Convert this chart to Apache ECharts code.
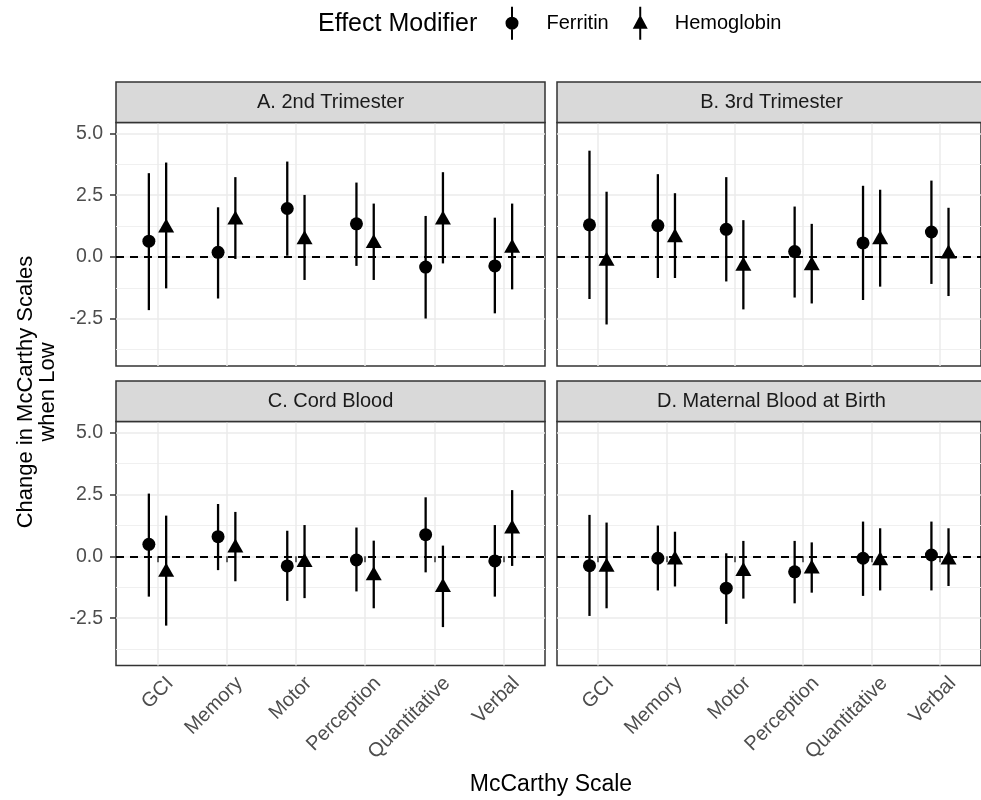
<!DOCTYPE html>
<html>
<head>
<meta charset="utf-8">
<title>McCarthy Scales effect modification</title>
<script src="https://cdn.jsdelivr.net/npm/echarts@6/dist/echarts.min.js"></script>
<style>
  html, body { margin: 0; padding: 0; background: #fff; }
  #main { width: 981px; height: 800px; }
</style>
</head>
<body>
<div id="main"></div>
<script>
// McCarthy scales on the x axis, one facet per blood sample
var scales = ['GCI', 'Memory', 'Motor', 'Perception', 'Quantitative', 'Verbal'];
var panels = ['A. 2nd Trimester', 'B. 3rd Trimester', 'C. Cord Blood', 'D. Maternal Blood at Birth'];
var yTicks = [-2.5, 0, 2.5, 5];
var yMinor = [-3.75, -1.25, 1.25, 3.75];
var xTicks = [1, 2, 3, 4, 5, 6];

// estimates and interval ends, one row per panel (A, B, C, D)
var ferritinEst = [
  [0.64, 0.19, 1.96, 1.34, -0.41, -0.36],
  [1.30, 1.27, 1.12, 0.22, 0.57, 1.01],
  [0.48, 0.79, -0.39, -0.15, 0.87, -0.19],
  [-0.38, -0.08, -1.29, -0.63, -0.08, 0.05]
];
var ferritinLow = [
  [-2.15, -1.68, 0.05, -0.36, -2.49, -2.28],
  [-1.70, -0.85, -0.99, -1.64, -1.74, -1.09],
  [-1.63, -0.56, -1.80, -1.42, -0.65, -1.63],
  [-2.41, -1.38, -2.73, -1.90, -1.60, -1.38]
];
var ferritinHigh = [
  [3.39, 2.01, 3.86, 3.01, 1.66, 1.59],
  [4.30, 3.35, 3.23, 2.04, 2.88, 3.09],
  [2.53, 2.11, 1.03, 1.16, 2.38, 1.26],
  [1.67, 1.24, 0.12, 0.62, 1.40, 1.40]
];
var hemoglobinEst = [
  [1.18, 1.50, 0.71, 0.55, 1.50, 0.36],
  [-0.16, 0.79, -0.37, -0.35, 0.71, 0.13],
  [-0.64, 0.34, -0.24, -0.78, -1.25, 1.11],
  [-0.44, -0.14, -0.61, -0.51, -0.17, -0.14]
];
var hemoglobinLow = [
  [-1.27, -0.08, -0.93, -0.93, -0.26, -1.31],
  [-2.73, -0.85, -2.12, -1.88, -1.20, -1.58],
  [-2.80, -1.01, -1.69, -2.10, -2.86, -0.39],
  [-2.10, -1.22, -1.71, -1.47, -1.38, -1.20]
];
var hemoglobinHigh = [
  [3.82, 3.23, 2.51, 2.16, 3.43, 2.16],
  [2.64, 2.58, 1.49, 1.34, 2.72, 1.99],
  [1.64, 1.79, 1.26, 0.63, 0.43, 2.67],
  [1.36, 0.99, 0.62, 0.56, 1.13, 1.13]
];

var dodge = 0.125;
var gridBox = [
  { left: 116, top: 122.5, width: 429, height: 243.5 },
  { left: 557, top: 122.5, width: 429, height: 243.5 },
  { left: 116, top: 421.5, width: 429, height: 244 },
  { left: 557, top: 421.5, width: 429, height: 244 }
];

var circleIcon = 'path://M6,0L8,0L8,33L6,33Z M13.5,16.5A6.5,6.5 0 1 1 0.5,16.5A6.5,6.5 0 1 1 13.5,16.5Z';
var triangleIcon = 'path://M6.5,0L8.5,0L8.5,33L6.5,33Z M7.5,8L15,22L0,22Z';

function rows(est, low, high, shift) {
  return scales.map(function (s, i) {
    return [i + 1 + shift, est[i], low[i], high[i]];
  });
}

function errorBar(params, api) {
  var a = api.coord([api.value(0), api.value(2)]);
  var b = api.coord([api.value(0), api.value(3)]);
  return {
    type: 'line',
    shape: { x1: a[0], y1: a[1], x2: b[0], y2: b[1] },
    style: { stroke: '#000', lineWidth: 2.3 }
  };
}

var grids = [], xAxes = [], yAxes = [], series = [], graphics = [];

panels.forEach(function (title, p) {
  var left = p % 2 === 0;
  var bottom = p >= 2;
  var g = gridBox[p];
  grids.push({
    left: g.left, top: g.top, width: g.width, height: g.height,
    show: true, borderColor: '#333', borderWidth: 1.5, backgroundColor: '#fff'
  });
  xAxes.push({
    gridIndex: p, type: 'value', min: 0.4, max: 6.6,
    axisLine: { show: false },
    axisTick: { show: bottom, customValues: xTicks, length: 6, lineStyle: { color: '#333', width: 1.5 } },
    axisLabel: {
      show: bottom, customValues: xTicks, rotate: 45, margin: 2,
      align: 'right', verticalAlign: 'top', lineHeight: 36,
      color: '#4d4d4d', fontSize: 20,
      formatter: function (v) { return scales[Math.round(v) - 1] || ''; }
    },
    splitLine: { show: true, lineStyle: { color: '#ebebeb', width: 1.5 } }
  });
  yAxes.push({
    gridIndex: p, type: 'value', min: -4.41, max: 5.44,
    axisLine: { show: false },
    axisTick: { show: left, customValues: yTicks, length: 6, lineStyle: { color: '#333', width: 1.5 } },
    axisLabel: {
      show: left, customValues: yTicks, margin: 13, color: '#4d4d4d', fontSize: 19.5,
      formatter: function (v) { return v.toFixed(1); }
    },
    splitLine: { show: true, lineStyle: { color: '#ebebeb', width: 1.5 } }
  });
  // second y axis only for the minor grid lines
  yAxes.push({
    gridIndex: p, type: 'value', min: -4.41, max: 5.44, position: 'right',
    axisLine: { show: false },
    axisTick: { show: false, customValues: yMinor },
    axisLabel: { show: false, customValues: yMinor },
    splitLine: { show: true, lineStyle: { color: '#f0f0f0', width: 1 } }
  });

  var yi = p * 2;
  series.push({
    name: 'Ferritin', type: 'custom', xAxisIndex: p, yAxisIndex: yi,
    renderItem: errorBar, encode: { x: 0, y: [2, 3] },
    data: rows(ferritinEst[p], ferritinLow[p], ferritinHigh[p], -dodge), z: 3
  });
  series.push({
    name: 'Hemoglobin', type: 'custom', xAxisIndex: p, yAxisIndex: yi,
    renderItem: errorBar, encode: { x: 0, y: [2, 3] },
    data: rows(hemoglobinEst[p], hemoglobinLow[p], hemoglobinHigh[p], dodge), z: 3
  });
  series.push({
    name: 'Ferritin', type: 'scatter', xAxisIndex: p, yAxisIndex: yi,
    symbol: 'circle', symbolSize: 13, itemStyle: { color: '#000', opacity: 1 },
    encode: { x: 0, y: 1 }, z: 4,
    data: rows(ferritinEst[p], ferritinLow[p], ferritinHigh[p], -dodge),
    markLine: {
      silent: true, symbol: ['none', 'none'], label: { show: false },
      lineStyle: { color: '#000', type: [8, 6], width: 2 },
      data: [{ yAxis: 0 }]
    }
  });
  series.push({
    name: 'Hemoglobin', type: 'scatter', xAxisIndex: p, yAxisIndex: yi,
    symbol: 'triangle', symbolSize: [16, 14], symbolOffset: [0, -2.3],
    itemStyle: { color: '#000', opacity: 1 },
    encode: { x: 0, y: 1 }, z: 4,
    data: rows(hemoglobinEst[p], hemoglobinLow[p], hemoglobinHigh[p], dodge)
  });

  // facet strip
  graphics.push({
    type: 'rect', z: 10,
    shape: { x: g.left, y: g.top - 40.5, width: g.width, height: 40.5 },
    style: { fill: '#d9d9d9', stroke: '#333', lineWidth: 1.5 }
  });
  graphics.push({
    type: 'text', z: 11,
    x: g.left + g.width / 2, y: g.top - 20,
    style: { text: title, fill: '#1a1a1a', font: '20px "Liberation Sans", Arial, sans-serif', align: 'center', verticalAlign: 'middle' }
  });
});

graphics.push({
  type: 'text', x: 318, y: 24,
  style: { text: 'Effect Modifier', fill: '#000', font: '25px "Liberation Sans", Arial, sans-serif', align: 'left', verticalAlign: 'middle' }
});
graphics.push({
  type: 'text', x: 551, y: 785,
  style: { text: 'McCarthy Scale', fill: '#000', font: '23px "Liberation Sans", Arial, sans-serif', align: 'center', verticalAlign: 'middle' }
});
graphics.push({
  type: 'text', x: 37, y: 392, rotation: Math.PI / 2,
  style: {
    text: 'Change in McCarthy Scales\nwhen Low', fill: '#000', lineHeight: 22,
    font: '22px "Liberation Sans", Arial, sans-serif', align: 'center', verticalAlign: 'middle'
  }
});

var chart = echarts.init(document.getElementById('main'), null, { renderer: 'canvas' });
chart.setOption({
  animation: false,
  backgroundColor: '#fff',
  textStyle: { fontFamily: '"Liberation Sans", Arial, sans-serif' },
  legend: {
    left: 505.5, top: 6.7, padding: 0,
    itemWidth: 15, itemHeight: 33, itemGap: 24,
    selectedMode: false,
    textStyle: { fontSize: 20, color: '#000', padding: [0, 0, 0, 22] },
    data: [
      { name: 'Ferritin', icon: circleIcon, itemStyle: { color: '#000' } },
      { name: 'Hemoglobin', icon: triangleIcon, itemStyle: { color: '#000' } }
    ]
  },
  grid: grids,
  xAxis: xAxes,
  yAxis: yAxes,
  series: series,
  graphic: graphics
});
</script>
</body>
</html>
